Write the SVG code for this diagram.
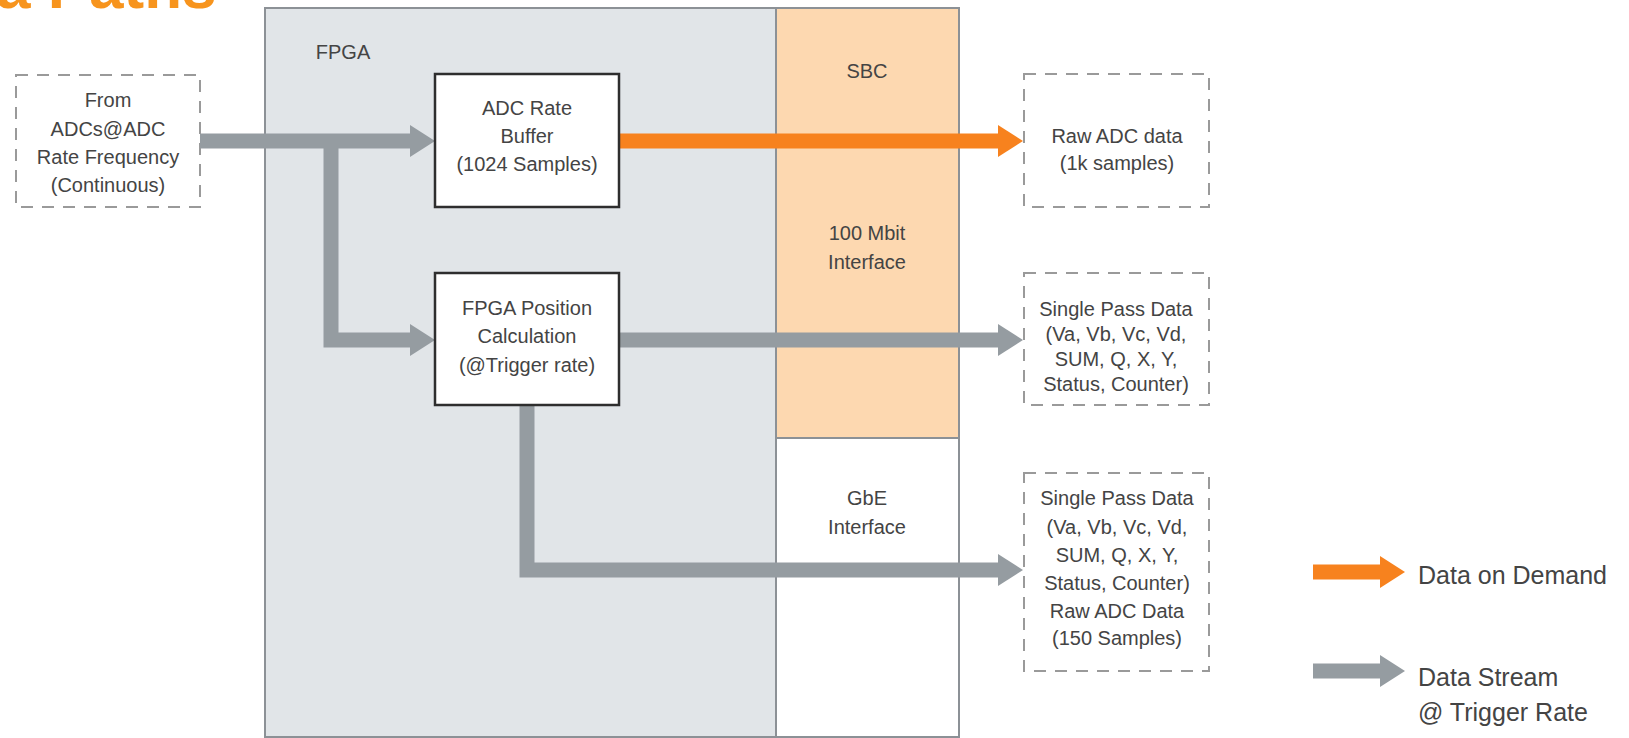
<svg xmlns="http://www.w3.org/2000/svg" width="1629" height="738" viewBox="0 0 1629 738">
<style>
  text { font-family: "Liberation Sans", Arial, sans-serif; fill: #444444; }
  .lbl { font-size: 20px; text-anchor: middle; }
  .leg { font-size: 25px; }
  .dash { fill: none; stroke: #9a9a9a; stroke-width: 2; stroke-dasharray: 12 9; }
  .blk { fill: #ffffff; stroke: #2e2e2e; stroke-width: 2.5; }
  .gray { fill: none; stroke: #959ca1; stroke-width: 15; stroke-linejoin: miter; }
  .orange { fill: none; stroke: #f7821e; stroke-width: 15; }
</style>
<defs>
  <marker id="hg" viewBox="0 0 25 32" refX="0" refY="16" markerWidth="25" markerHeight="32" markerUnits="userSpaceOnUse" orient="auto">
    <path d="M0,0 L25,16 L0,32 Z" fill="#959ca1"/>
  </marker>
  <marker id="ho" viewBox="0 0 25 32" refX="0" refY="16" markerWidth="25" markerHeight="32" markerUnits="userSpaceOnUse" orient="auto">
    <path d="M0,0 L25,16 L0,32 Z" fill="#f7821e"/>
  </marker>
</defs>

<rect width="1629" height="738" fill="#ffffff"/>

<text x="-4" y="8" style="font-size:62px;font-weight:bold;fill:#f7941d">a Paths</text>

<g id="fpga">
  <rect x="265" y="8" width="694" height="729" fill="#e1e5e8" stroke="#8c9196" stroke-width="2"/>
  <text class="lbl" x="343" y="59">FPGA</text>
</g>

<g id="sbc">
  <rect x="776" y="8" width="183" height="430" fill="#fdd8b0" stroke="#8c9196" stroke-width="2"/>
  <text class="lbl" x="867" y="78">SBC</text>
  <text class="lbl" x="867" y="240">100 Mbit</text>
  <text class="lbl" x="867" y="269">Interface</text>
</g>

<g id="gbe">
  <rect x="776" y="438" width="183" height="299" fill="#ffffff" stroke="#8c9196" stroke-width="2"/>
  <text class="lbl" x="867" y="505">GbE</text>
  <text class="lbl" x="867" y="534">Interface</text>
</g>

<g id="adc-input">
  <rect class="dash" x="16" y="75" width="184" height="132"/>
  <text class="lbl" x="108" y="107">From</text>
  <text class="lbl" x="108" y="136">ADCs@ADC</text>
  <text class="lbl" x="108" y="164">Rate Frequency</text>
  <text class="lbl" x="108" y="192">(Continuous)</text>
</g>

<g id="connectors">
  <path class="gray" d="M200,141 L410,141" marker-end="url(#hg)"/>
  <path class="gray" d="M331,134 L331,340 L410,340" marker-end="url(#hg)"/>
  <path class="orange" d="M619,141 L998,141" marker-end="url(#ho)"/>
  <path class="gray" d="M619,340 L998,340" marker-end="url(#hg)"/>
  <path class="gray" d="M527,405 L527,570 L998,570" marker-end="url(#hg)"/>
</g>

<g id="adc-buffer">
  <rect class="blk" x="435" y="74" width="184" height="133"/>
  <text class="lbl" x="527" y="115">ADC Rate</text>
  <text class="lbl" x="527" y="143">Buffer</text>
  <text class="lbl" x="527" y="171">(1024 Samples)</text>
</g>

<g id="position-calc">
  <rect class="blk" x="435" y="273" width="184" height="132"/>
  <text class="lbl" x="527" y="315">FPGA Position</text>
  <text class="lbl" x="527" y="343">Calculation</text>
  <text class="lbl" x="527" y="372">(@Trigger rate)</text>
</g>

<g id="raw-adc">
  <rect class="dash" x="1024" y="74" width="185" height="133"/>
  <text class="lbl" x="1117" y="143">Raw ADC data</text>
  <text class="lbl" x="1117" y="170">(1k samples)</text>
</g>

<g id="single-pass-100">
  <rect class="dash" x="1024" y="273" width="185" height="132"/>
  <text class="lbl" x="1116" y="316">Single Pass Data</text>
  <text class="lbl" x="1116" y="341">(Va, Vb, Vc, Vd,</text>
  <text class="lbl" x="1116" y="366">SUM, Q, X, Y,</text>
  <text class="lbl" x="1116" y="391">Status, Counter)</text>
</g>

<g id="single-pass-gbe">
  <rect class="dash" x="1024" y="473" width="185" height="198"/>
  <text class="lbl" x="1117" y="505">Single Pass Data</text>
  <text class="lbl" x="1117" y="534">(Va, Vb, Vc, Vd,</text>
  <text class="lbl" x="1117" y="562">SUM, Q, X, Y,</text>
  <text class="lbl" x="1117" y="590">Status, Counter)</text>
  <text class="lbl" x="1117" y="618">Raw ADC Data</text>
  <text class="lbl" x="1117" y="645">(150 Samples)</text>
</g>

<g id="legend">
  <path class="orange" d="M1313,572 L1380,572" marker-end="url(#ho)"/>
  <text class="leg" x="1418" y="584">Data on Demand</text>
  <path class="gray" d="M1313,671 L1380,671" marker-end="url(#hg)"/>
  <text class="leg" x="1418" y="686">Data Stream</text>
  <text class="leg" x="1418" y="721">@ Trigger Rate</text>
</g>
</svg>
